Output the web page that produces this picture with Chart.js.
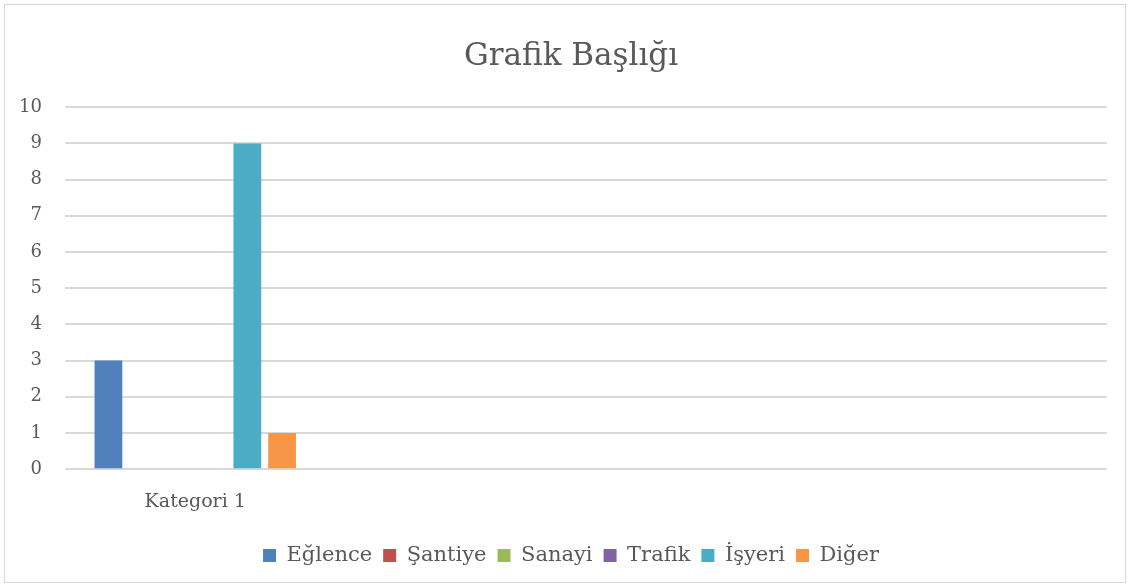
<!DOCTYPE html>
<html>
<head>
<meta charset="utf-8">
<script src="https://cdn.jsdelivr.net/npm/chart.js"></script>
<style>
  html, body { margin: 0; padding: 0; background: #fff; }
  #wrap { position: absolute; left: 4px; top: 4px; width: 1122px; height: 579px; border: 1px solid #d9d9d9; box-sizing: border-box; }
  #c { position: absolute; left: 0; top: 0; }
</style>
</head>
<body>
<div id="wrap"></div>
<canvas id="c" width="1130" height="588"></canvas>
<script>
// chart data
const categories = ['Kategori 1', '', '', '']
const seriesNames = ['Eğlence', 'Şantiye', 'Sanayi', 'Trafik', 'İşyeri', 'Diğer']
const eglence = [3, null, null, null]
const santiye = [0, null, null, null]
const sanayi = [0, null, null, null]
const trafik = [0, null, null, null]
const isyeri = [9, null, null, null]
const diger = [1, null, null, null]
const yTicks = [0, 1, 2, 3, 4, 5, 6, 7, 8, 9, 10]

const colors = ['#4f81bd', '#c0504d', '#9bbb59', '#8064a2', '#4bacc6', '#f79646']
const values = [eglence, santiye, sanayi, trafik, isyeri, diger]
const font = "'DejaVu Serif', 'Liberation Serif', serif"
const textColor = '#595959'

// let the y labels draw left of the padding (title/legend stay centred like the original)
const widenY = {
  id: 'widenY',
  afterLayout(chart) { chart.scales.y.left = 0 }
}

new Chart(document.getElementById('c'), {
  type: 'bar',
  data: {
    labels: categories,
    datasets: seriesNames.map((name, i) => ({
      label: name,
      data: values[i],
      backgroundColor: colors[i],
      borderWidth: 0,
      categoryPercentage: 0.8,
      barPercentage: 0.8
    }))
  },
  plugins: [widenY],
  options: {
    responsive: false,
    animation: false,
    layout: { padding: { left: 35, right: 23, top: 24, bottom: 12 } },
    plugins: {
      title: {
        display: true,
        text: 'Grafik Başlığı',
        color: textColor,
        font: { family: font, size: 31, weight: 'normal' },
        padding: { top: 14, bottom: 32 }
      },
      legend: {
        position: 'bottom',
        labels: {
          color: textColor,
          font: { family: font, size: 21 },
          boxWidth: 13,
          boxHeight: 13,
          padding: 11
        }
      },
      tooltip: { enabled: false }
    },
    scales: {
      x: {
        grid: { display: false, drawTicks: false },
        border: { display: false },
        ticks: { color: textColor, font: { family: font, size: 19 }, padding: 21 }
      },
      y: {
        min: 0,
        max: 10,
        afterFit: (s) => { s.width = 30 },
        afterBuildTicks: (s) => { s.ticks = yTicks.map(v => ({ value: v })) },
        grid: { color: '#d9d9d9', lineWidth: 2, drawTicks: false },
        border: { display: false },
        ticks: { color: textColor, font: { family: font, size: 18 }, padding: 23 }
      }
    }
  }
})
</script>
</body>
</html>
